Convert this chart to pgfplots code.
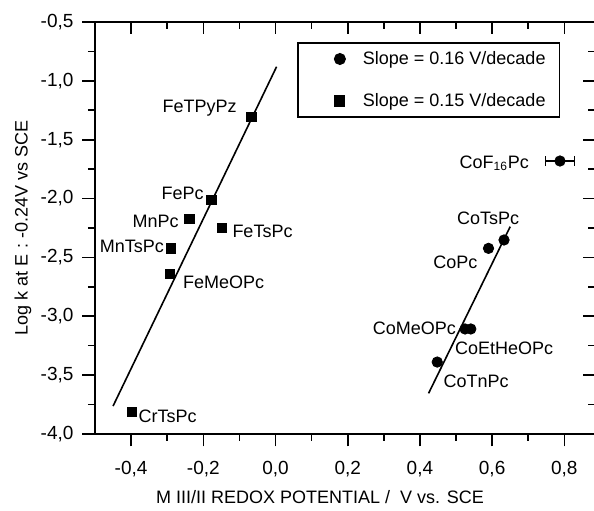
\documentclass[border=0pt]{standalone}
\usepackage{pgfplots}
\pgfplotsset{compat=1.18}
\usepackage{fontspec}
\setmainfont{Liberation Sans}
\setsansfont{Liberation Sans}

\begin{document}
\begin{tikzpicture}[font=\fontsize{9}{11}\selectfont]
\pgfplotsset{
  frame/.style={
    scale only axis, width=250pt, height=206pt,
    xmin=-0.5, xmax=0.885, ymin=-4, ymax=-0.5,
    xtick={-0.4,-0.2,...,0.81}, ytick={-4,-3.5,...,-0.49},
    minor x tick num=1, minor y tick num=1,
    major tick length=6.25pt, minor tick length=3.5pt,
    axis line style={-, line width=0.9pt},
    every tick/.style={black, line width=0.8pt},
    /pgf/number format/.cd, use comma, fixed, fixed zerofill, precision=1, assume math mode=true,
  },
}
\begin{axis}[frame,
  axis x line*=bottom, axis y line*=left, tick align=outside,
  xticklabel={\pgfmathprintnumber{\tick}}, yticklabel={\pgfmathprintnumber{\tick}},
  ticklabel style={font=\fontsize{9.5}{11}\selectfont},
  x tick label style={yshift=-4pt},
  y tick label style={xshift=-1pt},
  xlabel={M III/II REDOX POTENTIAL /\ \ V vs. SCE},
  ylabel={Log k at E : -0.24V vs SCE},
  xlabel style={at={(axis description cs:0.45,-0.153)}, anchor=center},
  ylabel style={at={(axis description cs:-0.144,0.5)}, anchor=center, rotate=0},
  legend style={at={(0.404,0.951)}, anchor=north west, draw=black, line width=0.8pt,
    inner xsep=5pt, inner ysep=2pt, row sep=9pt, font=\fontsize{9}{11}\selectfont,
    cells={anchor=west}},
  legend image code/.code={\path (-0.55cm,0) (0.32cm,0); \draw[#1] plot coordinates {(0cm,0cm)};},
]
% Co complexes (circles)
\addplot[only marks, mark=*, mark size=2.6pt, black] coordinates {
  (0.633,-2.352) (0.590,-2.423) (0.525,-3.108) (0.541,-3.108) (0.448,-3.389)
};
\addlegendentry{Slope = 0.16 V/decade}
% Fe, Mn, Cr complexes (squares)
\addplot[only marks, mark=square*, mark size=2.4pt, black] coordinates {
  (-0.067,-1.305) (-0.177,-2.012) (-0.239,-2.174) (-0.149,-2.248)
  (-0.290,-2.423) (-0.293,-2.641) (-0.398,-3.811)
};
\addlegendentry{Slope = 0.15 V/decade}
% CoF16Pc with horizontal error bar
\addplot[forget plot, only marks, mark=*, mark size=2.6pt, black,
  error bars/.cd, x dir=both, x explicit, error bar style={line width=1.2pt}]
  coordinates {(0.788,-1.681) +- (0.04,0)};
% fitted lines
\addplot[forget plot, black, line width=0.8pt] coordinates {(-0.450,-3.763) (0.003,-0.880)};
\addplot[forget plot, black, line width=0.8pt] coordinates {(0.424,-3.655) (0.650,-2.239)};

\node at (axis cs:-0.210,-1.231) {FeTPyPz};
\node at (axis cs:-0.257,-1.953) {FePc};
\node at (axis cs:-0.332,-2.190) {MnPc};
\node at (axis cs:-0.036,-2.276) {FeTsPc};
\node at (axis cs:-0.398,-2.403) {MnTsPc};
\node at (axis cs:-0.144,-2.709) {FeMeOPc};
\node at (axis cs:-0.299,-3.847) {CrTsPc};
\node at (axis cs:0.606,-1.698) {CoF\textsubscript{16}Pc};
\node at (axis cs:0.589,-2.165) {CoTsPc};
\node at (axis cs:0.498,-2.539) {CoPc};
\node at (axis cs:0.385,-3.100) {CoMeOPc};
\node at (axis cs:0.633,-3.270) {CoEtHeOPc};
\node at (axis cs:0.556,-3.550) {CoTnPc};

\coordinate (sw) at (rel axis cs:0,0);
\coordinate (ne) at (rel axis cs:1,1);
\end{axis}
\begin{axis}[frame,
  axis x line*=top, axis y line*=right, tick align=inside,
  xticklabels={}, yticklabels={},
]
\addplot[draw=none] coordinates {(0,-1)};
\end{axis}
\pgfresetboundingbox
\path ([shift={(-47.5pt,-38.5pt)}]sw) rectangle ([shift={(-0.5pt,11pt)}]ne);
\end{tikzpicture}
\end{document}
